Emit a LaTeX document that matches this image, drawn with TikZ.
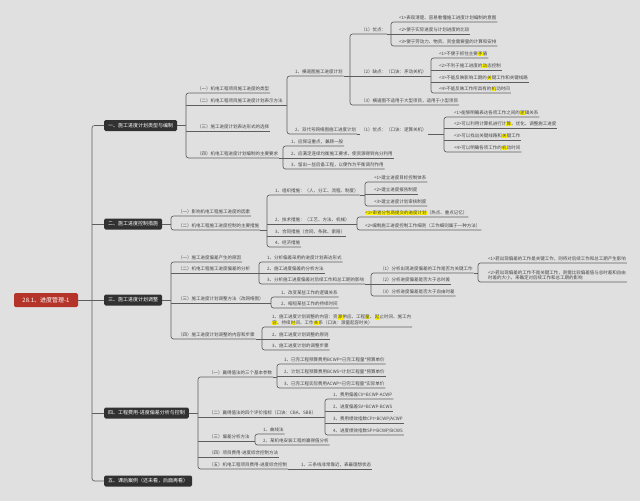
\documentclass[tikz,border=0pt]{standalone}
\usepackage{fontspec}
\setmainfont{Noto Sans CJK SC}
\usetikzlibrary{calc}
\definecolor{bgc}{HTML}{E0E0E0}
\definecolor{linec}{HTML}{5E5E5E}
\definecolor{textc}{HTML}{454545}
\definecolor{boxc}{HTML}{313131}
\definecolor{rootc}{HTML}{B5342A}
\definecolor{hly}{HTML}{FFF200}
\newcommand\hlt[1]{{\setlength{\fboxsep}{0.25pt}\colorbox{hly}{#1}}}
\tikzset{
  conn/.style={draw=linec, line width=0.65pt},
  brk/.style={conn, rounded corners=2.5pt},
  leaf/.style={anchor=south west, inner xsep=0.8pt, inner ysep=1.6pt, text=textc,
    font=\fontsize{4.5}{5.6}\selectfont, align=left},
  lvl/.style={anchor=west, fill=boxc, text=white, rounded corners=1.5pt,
    minimum height=11pt, inner xsep=4pt, inner ysep=0pt, font=\fontsize{5}{6}\selectfont},
  rootbox/.style={fill=rootc, text=white, rounded corners=1.5pt, minimum width=64pt,
    minimum height=14pt, inner sep=0pt, font=\fontsize{6}{7}\selectfont}
}
\begin{document}
\begin{tikzpicture}[x=1pt,y=-1pt]
\fill[bgc] (0,0) rectangle (640,501);
\useasboundingbox (0,0) rectangle (640,501);

% root and level 1
\node[rootbox] (root) at (46,300) {28.1、进度管理-1};
\node[lvl] (L1) at (104,125.5) {一、施工进度计划类型与编制};
\node[lvl] (L2) at (104,224) {二、施工进度控制措施};
\node[lvl] (L3) at (104,300) {三、施工进度计划调整};
\node[lvl] (L4) at (104,413) {四、工程费用-进度偏差分析与控制};
\node[lvl] (L5) at (104,481) {五、课后案例（还未看，后面再看）};
\coordinate (tk) at (92,0);
\draw[brk] (L1.west) -- (L1.west -| tk) -- (L5.west -| tk) -- (L5.west);
\draw[conn] (root.east) -- (root.east -| tk);
\foreach \n in {L2,L3,L4} \draw[conn] (\n.west -| tk) -- (\n.west);

% ===== group 一
\coordinate (bA) at (186,0);
\node[leaf] (a1) at (196,93) {（一）机电工程项目施工进度的类型};
\node[leaf] (a2) at (196,105) {（二）机电工程项目施工进度计划表示方法};
\node[leaf] (a3) at (196,131) {（三）施工进度计划表达形式的选择};
\node[leaf] (a4) at (196,158) {（四）机电工程进度计划编制的主要要求};
\draw[brk] (a1.south east) -- (a1.south west -| bA) -- (a4.south west -| bA) -- (a4.south east);
\foreach \n in {a2,a3} \draw[conn] (\n.south west -| bA) -- (\n.south east);
\draw[conn] (L1.east) -- (L1.east -| bA);

\coordinate (bB) at (287,0);
\node[leaf] (b1) at (294,76) {1、横道图施工进度计划};
\node[leaf] (b2) at (294,134) {2、双代号网络图施工进度计划};
\draw[brk] (b1.south east) -- (b1.south west -| bB) -- (b2.south west -| bB) -- (b2.south east);
\draw[conn] (a2.south east) -- (a2.south east -| bB);

\coordinate (bC) at (350,0);
\node[leaf] (c1) at (360,34) {（1）优点：};
\node[leaf] (c2) at (360,76) {（2）缺点：（口诀：矛动关机）};
\node[leaf] (c3) at (360,105) {（3）横道图不适用于大型项目，适用于小型项目};
\draw[brk] (c1.south east) -- (c1.south west -| bC) -- (c3.south west -| bC) -- (c3.south east);
\draw[conn] (c2.south west -| bC) -- (c2.south east);
\draw[conn] (b1.south east) -- (b1.south east -| bC);

\coordinate (bD) at (391,0);
\node[leaf] (d1) at (398,22) {<1>表现清楚、容易看懂施工进度计划编制的意图};
\node[leaf] (d2) at (398,34) {<2>便于实际进度与计划进度的比较};
\node[leaf] (d3) at (398,46) {<3>便于劳动力、物资、资金需要量的计算和安排};
\draw[brk] (d1.south east) -- (d1.south west -| bD) -- (d3.south west -| bD) -- (d3.south east);
\draw[conn] (d2.south west -| bD) -- (d2.south east);
\draw[conn] (c1.south east) -- (c1.south east -| bD);

\coordinate (bE) at (431,0);
\node[leaf] (e1) at (438,58) {<1>不便于抓住主要\hlt{矛}盾};
\node[leaf] (e2) at (438,70) {<2>不利于施工进度的\hlt{动}态控制};
\node[leaf] (e3) at (438,82) {<3>不能反映影响工期的\hlt{关}键工作和关键线路};
\node[leaf] (e4) at (438,93) {<4>不能反映工作所具有的\hlt{机}动时间};
\draw[brk] (e1.south east) -- (e1.south west -| bE) -- (e4.south west -| bE) -- (e4.south east);
\foreach \n in {e2,e3} \draw[conn] (\n.south west -| bE) -- (\n.south east);
\draw[conn] (c2.south east) -- (c2.south east -| bE);

\node[leaf] (c4) at (360,134) {（1）优点：（口诀：逻算关机）};
\draw[conn] (b2.south east) -- (c4.south west);
\coordinate (bF) at (444,0);
\node[leaf] (f1) at (453,117) {<1>能够明确表达各项工作之间的\hlt{逻}辑关系};
\node[leaf] (f2) at (453,128) {<2>可以利用计算机进行计\hlt{算}、优化、调整施工进度};
\node[leaf] (f3) at (453,140) {<3>可以找出关键线路和\hlt{关}键工作};
\node[leaf] (f4) at (453,152) {<4>可以明确各项工作的\hlt{机}动时间};
\draw[brk] (f1.south east) -- (f1.south west -| bF) -- (f4.south west -| bF) -- (f4.south east);
\foreach \n in {f2,f3} \draw[conn] (\n.south west -| bF) -- (\n.south east);
\draw[conn] (c4.south east) -- (c4.south east -| bF);

\coordinate (bG) at (283,0);
\node[leaf] (g1) at (290,146) {1、应保证重点，兼顾一般};
\node[leaf] (g2) at (290,158) {2、应满足连续均衡施工要求，使资源得到充分利用};
\node[leaf] (g3) at (290,169) {3、留出一些后备工程，以便作为平衡调剂作用};
\draw[brk] (g1.south east) -- (g1.south west -| bG) -- (g3.south west -| bG) -- (g3.south east);
\draw[conn] (g2.south west -| bG) -- (g2.south east);
\draw[conn] (a4.south east) -- (a4.south east -| bG);

% ===== group 二
\coordinate (bH) at (171,0);
\node[leaf] (h1) at (177,216) {（一）影响机电工程施工进度的因素};
\node[leaf] (h2) at (177,230) {（二）机电工程施工进度控制的主要措施};
\draw[brk] (h1.south east) -- (h1.south west -| bH) -- (h2.south west -| bH) -- (h2.south east);
\draw[conn] (L2.east) -- (L2.east -| bH);

\coordinate (bI) at (267,0);
\node[leaf] (i1) at (274,195) {1、组织措施：（人、分工、流程、制度）};
\node[leaf] (i2) at (274,224) {2、技术措施：（工艺、方法、机械）};
\node[leaf] (i3) at (274,236) {3、合同措施（合同、条款、索赔）};
\node[leaf] (i4) at (274,247) {4、经济措施};
\draw[brk] (i1.south east) -- (i1.south west -| bI) -- (i4.south west -| bI) -- (i4.south east);
\foreach \n in {i2,i3} \draw[conn] (\n.south west -| bI) -- (\n.south east);
\draw[conn] (h2.south east) -- (h2.south east -| bI);

\coordinate (bJ) at (365,0);
\node[leaf] (j1) at (373,182) {<1>建立进度目标控制体系};
\node[leaf] (j2) at (373,194) {<2>建立进度报告制度};
\node[leaf] (j3) at (373,206) {<3>建立进度计划审核制度};
\draw[brk] (j1.south east) -- (j1.south west -| bJ) -- (j3.south west -| bJ) -- (j3.south east);
\draw[conn] (j2.south west -| bJ) -- (j2.south east);
\draw[conn] (i1.south east) -- (i1.south east -| bJ);

\coordinate (bK) at (357,0);
\node[leaf] (k1) at (364,217) {\hlt{<1>审查分包商提交的进度计划}（热点、重点记忆）};
\node[leaf] (k2) at (364,230) {<2>编制施工进度控制工作细则（工作细则属于一种方法）};
\draw[brk] (k1.south east) -- (k1.south west -| bK) -- (k2.south west -| bK) -- (k2.south east);
\draw[conn] (i2.south east) -- (i2.south east -| bK);

% ===== group 三
\coordinate (bM) at (171,0);
\node[leaf] (m1) at (177,262) {（一）施工进度偏差产生的原因};
\node[leaf] (m2) at (177,273) {（二）机电工程施工进度偏差的分析};
\node[leaf] (m3) at (177,303) {（三）施工进度计划调整方法（改网络图）};
\node[leaf] (m4) at (177,339) {（四）施工进度计划调整的内容和步骤};
\draw[brk] (m1.south east) -- (m1.south west -| bM) -- (m4.south west -| bM) -- (m4.south east);
\foreach \n in {m2,m3} \draw[conn] (\n.south west -| bM) -- (\n.south east);
\draw[conn] (L3.east) -- (L3.east -| bM);

\coordinate (bN) at (259,0);
\node[leaf] (n1) at (266,262) {1、分析偏差采用的进度计划表达形式};
\node[leaf] (n2) at (266,273) {2、施工进度偏差的分析方法};
\node[leaf] (n3) at (266,284) {3、分析施工进度偏差对后续工作和总工期的影响};
\draw[brk] (n1.south east) -- (n1.south west -| bN) -- (n3.south west -| bN) -- (n3.south east);
\draw[conn] (n2.south west -| bN) -- (n2.south east);
\draw[conn] (m2.south east) -- (m2.south east -| bN);

\coordinate (bO) at (371,0);
\node[leaf] (o1) at (379,273) {（1）分析出现进度偏差的工作是否为关键工作};
\node[leaf] (o2) at (379,284) {（2）分析进度偏差是否大于总时差};
\node[leaf] (o3) at (379,296) {（3）分析进度偏差是否大于自由时差};
\draw[brk] (o1.south east) -- (o1.south west -| bO) -- (o3.south west -| bO) -- (o3.south east);
\draw[conn] (o2.south west -| bO) -- (o2.south east);
\draw[conn] (n3.south east) -- (n3.south east -| bO);

\coordinate (bP) at (478,0);
\node[leaf] (p1) at (487,263) {<1>若出现偏差的工作是关键工作，则将对后续工作和总工期产生影响};
\node[leaf] (p2) at (487,282) {<2>若出现偏差的工作不是关键工作，则需比较偏差值与总时差和自由\\时差的大小，来确定对后续工作和总工期的影响};
\draw[brk] (p1.south east) -- (p1.south west -| bP) -- (p2.south west -| bP) -- (p2.south east);
\draw[conn] (o1.south east) -- (o1.south east -| bP);

\coordinate (bQ) at (271,0);
\node[leaf] (q1) at (280,297) {1、改变某些工作的逻辑关系};
\node[leaf] (q2) at (280,308) {2、缩短某些工作的持续时间};
\draw[brk] (q1.south east) -- (q1.south west -| bQ) -- (q2.south west -| bQ) -- (q2.south east);
\draw[conn] (m3.south east) -- (m3.south east -| bQ);

\coordinate (bR) at (262,0);
\node[leaf] (r1) at (271,327) {1、施工进度计划调整的内容：资\hlt{源}供应、工程\hlt{量}、\hlt{起}止时间、施工内\\\hlt{容}、持续\hlt{时}间、工作\hlt{关}系（口诀：源量起容时关）};
\node[leaf] (r2) at (271,339) {2、施工进度计划调整的原则};
\node[leaf] (r3) at (271,350) {3、施工进度计划的调整步骤};
\draw[brk] (r1.south east) -- (r1.south west -| bR) -- (r3.south west -| bR) -- (r3.south east);
\draw[conn] (r2.south west -| bR) -- (r2.south east);
\draw[conn] (m4.south east) -- (m4.south east -| bR);

% ===== group 四
\coordinate (bS) at (198,0);
\node[leaf] (s1) at (208,377) {（一）赢得值法的三个基本参数};
\node[leaf] (s2) at (208,417) {（二）赢得值法的四个评价指标（口诀：CBA、SBB）};
\node[leaf] (s3) at (208,441) {（三）偏差分析方法};
\node[leaf] (s4) at (208,457) {（四）项目费用-进度综合控制方法};
\node[leaf] (s5) at (208,469) {（五）机电工程项目费用-进度综合控制};
\draw[brk] (s1.south east) -- (s1.south west -| bS) -- (s5.south west -| bS) -- (s5.south east);
\foreach \n in {s2,s3,s4} \draw[conn] (\n.south west -| bS) -- (\n.south east);
\draw[conn] (L4.east) -- (L4.east -| bS);

\coordinate (bT) at (277,0);
\node[leaf] (t1) at (283,364) {1、已完工程预算费用BCWP=已完工程量*预算单价};
\node[leaf] (t2) at (283,376) {2、计划工程预算费用BCWS=计划工程量*预算单价};
\node[leaf] (t3) at (283,388) {3、已完工程实际费用ACWP=已完工程量*实际单价};
\draw[brk] (t1.south east) -- (t1.south west -| bT) -- (t3.south west -| bT) -- (t3.south east);
\draw[conn] (t2.south west -| bT) -- (t2.south east);
\draw[conn] (s1.south east) -- (s1.south east -| bT);

\coordinate (bU) at (325,0);
\node[leaf] (u1) at (332,399) {1、费用偏差CV=BCWP-ACWP};
\node[leaf] (u2) at (332,411) {2、进度偏差SV=BCWP-BCWS};
\node[leaf] (u3) at (332,423) {3、费用绩效指数CPI=BCWP/ACWP};
\node[leaf] (u4) at (332,435) {4、进度绩效指数SPI=BCWP/BCWS};
\draw[brk] (u1.south east) -- (u1.south west -| bU) -- (u4.south west -| bU) -- (u4.south east);
\foreach \n in {u2,u3} \draw[conn] (\n.south west -| bU) -- (\n.south east);
\draw[conn] (s2.south east) -- (s2.south east -| bU);

\coordinate (bV) at (255,0);
\node[leaf] (v1) at (262,434) {1、曲线法};
\node[leaf] (v2) at (262,445) {2、某机电安装工程的赢得值分析};
\draw[brk] (v1.south east) -- (v1.south west -| bV) -- (v2.south west -| bV) -- (v2.south east);
\draw[conn] (s3.south east) -- (s3.south east -| bV);

\node[leaf] (w1) at (300,469) {1、三条线非常靠近，表最理想状态};
\draw[conn] (s5.south east) -- (w1.south east);
\end{tikzpicture}
\end{document}
